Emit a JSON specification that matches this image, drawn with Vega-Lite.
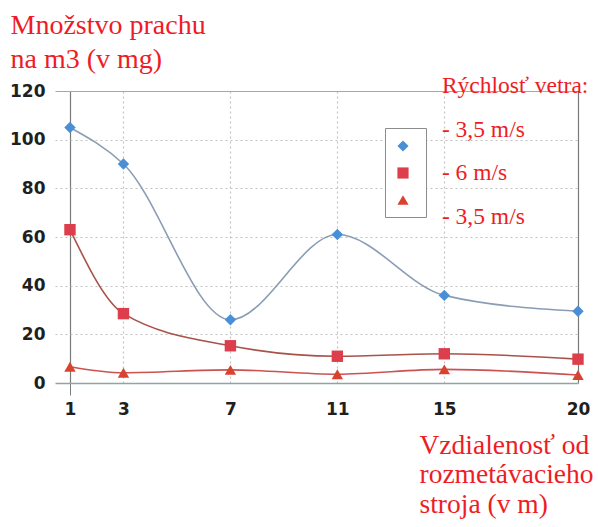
{
  "$schema": "https://vega.github.io/schema/vega-lite/v6.json",
  "width": 523,
  "height": 292,
  "autosize": {"type": "none"},
  "padding": {"left": 55, "top": 91, "right": 20, "bottom": 144},
  "background": "white",
  "config": {
    "view": {"stroke": null},
    "legend": {
      "strokeColor": "#8c8c8c",
      "fillColor": "white",
      "padding": 12,
      "rowPadding": 15,
      "symbolSize": 125,
      "labelFontSize": 2,
      "labelColor": "transparent",
      "labelOffset": 3,
      "symbolStrokeWidth": 0
    }
  },
  "data": {
    "values": [
      {"dist": 1, "val": 105, "s": "a"},
      {"dist": 3, "val": 90, "s": "a"},
      {"dist": 7, "val": 26, "s": "a"},
      {"dist": 11, "val": 61, "s": "a"},
      {"dist": 15, "val": 36, "s": "a"},
      {"dist": 20, "val": 29.5, "s": "a"},
      {"dist": 1, "val": 63, "s": "b"},
      {"dist": 3, "val": 28.5, "s": "b"},
      {"dist": 7, "val": 15.3, "s": "b"},
      {"dist": 11, "val": 11, "s": "b"},
      {"dist": 15, "val": 12, "s": "b"},
      {"dist": 20, "val": 9.8, "s": "b"},
      {"dist": 1, "val": 6.7, "s": "c"},
      {"dist": 3, "val": 4.2, "s": "c"},
      {"dist": 7, "val": 5.4, "s": "c"},
      {"dist": 11, "val": 3.6, "s": "c"},
      {"dist": 15, "val": 5.6, "s": "c"},
      {"dist": 20, "val": 3.3, "s": "c"}
    ]
  },
  "layer": [
    {
      "mark": {"type": "line", "interpolate": "monotone", "strokeWidth": 1.6},
      "encoding": {
        "x": {
          "field": "dist",
          "type": "quantitative",
          "scale": {"domain": [0.44, 20], "nice": false, "zero": false},
          "axis": {
            "values": [1, 3, 7, 11, 15, 20],
            "title": ["Vzdialenosť od", "rozmetávacieho", "stroja (v m)"],
            "titleFont": "Liberation Serif",
            "titleFontSize": 27.5,
            "titleFontWeight": "normal",
            "titleColor": "#ee1c25",
            "titleAlign": "left",
            "titleAnchor": "start",
            "titleBaseline": "alphabetic",
            "titleLineHeight": 29.5,
            "titleX": 364,
            "titleY": 70,
            "labelFont": "DejaVu Sans",
            "labelFontWeight": "bold",
            "labelFontSize": 17,
            "labelColor": "#1f1f1f",
            "labelPadding": 6,
            "labelFlush": false,
            "labelBound": false,
            "labelOverlap": false,
            "ticks": true,
            "tickSize": 12,
            "tickColor": {"condition": {"test": "datum.value === 1", "value": "#7a7a7a"}, "value": "transparent"},
            "domain": true,
            "domainColor": "#8fa3a8",
            "domainWidth": 1.5,
            "grid": true,
            "gridColor": {"condition": {"test": "datum.value === 1 || datum.value === 20", "value": "#7a7a7a"}, "value": "#c2c2c2"},
            "gridDash": {"condition": {"test": "datum.value === 1 || datum.value === 20", "value": []}, "value": [2, 3]},
            "gridWidth": 1.2
          }
        },
        "y": {
          "field": "val",
          "type": "quantitative",
          "scale": {"domain": [0, 120], "nice": false},
          "axis": {
            "values": [0, 20, 40, 60, 80, 100, 120],
            "title": ["Množstvo prachu", "na m3 (v mg)"],
            "titleFont": "Liberation Serif",
            "titleFontSize": 28,
            "titleFontWeight": "normal",
            "titleColor": "#ee1c25",
            "titleAngle": 0,
            "titleAlign": "left",
            "titleBaseline": "alphabetic",
            "titleLineHeight": 34,
            "titleX": -45,
            "titleY": -58,
            "labelFont": "DejaVu Sans",
            "labelFontWeight": "bold",
            "labelFontSize": 17,
            "labelColor": "#1f1f1f",
            "labelPadding": 10,
            "ticks": false,
            "domain": false,
            "grid": true,
            "gridColor": {"condition": [{"test": "datum.value === 120", "value": "#a8a8a8"}, {"test": "datum.value === 0", "value": "transparent"}], "value": "#c2c2c2"},
            "gridDash": {"condition": {"test": "datum.value === 120", "value": []}, "value": [2, 3]},
            "gridWidth": 1.2
          }
        },
        "stroke": {
          "field": "s",
          "type": "nominal",
          "scale": {"range": ["#8a9db5", "#a8524a", "#cc5252"]},
          "legend": null
        }
      }
    },
    {
      "mark": {"type": "point", "filled": true, "opacity": 1, "size": 130},
      "encoding": {
        "x": {"field": "dist", "type": "quantitative"},
        "y": {"field": "val", "type": "quantitative"},
        "color": {
          "field": "s",
          "type": "nominal",
          "scale": {"domain": ["a", "b", "c"], "range": ["#4a8fd6", "#dc3f4b", "#d8432f"]},
          "legend": {"title": null, "orient": "none", "legendX": 330, "legendY": 37}
        },
        "shape": {
          "field": "s",
          "type": "nominal",
          "scale": {"domain": ["a", "b", "c"], "range": ["diamond", "square", "triangle-up"]},
          "legend": {"title": null, "orient": "none", "legendX": 330, "legendY": 37}
        }
      }
    },
    {
      "data": {"values": [{"note": "Rýchlosť vetra"}]},
      "mark": {
        "type": "text",
        "text": ["Rýchlosť vetra:", "- 3,5 m/s", "- 6 m/s", "- 3,5 m/s"],
        "font": "Liberation Serif",
        "fontSize": 23.5,
        "fontWeight": "normal",
        "color": "#ee1c25",
        "align": "left",
        "baseline": "alphabetic",
        "lineHeight": 43.5
      },
      "encoding": {
        "x": {"datum": 14.91},
        "y": {"datum": 119}
      }
    }
  ]
}
